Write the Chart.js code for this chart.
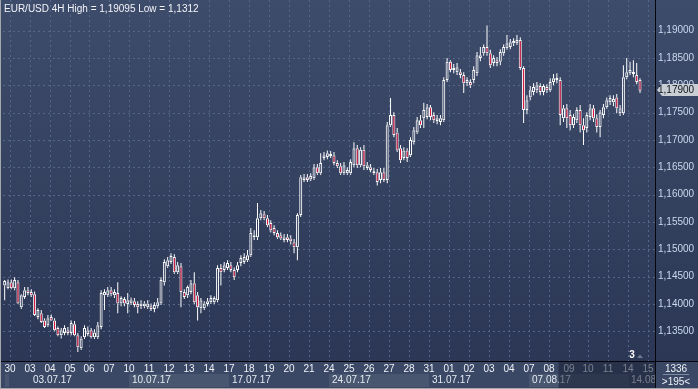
<!DOCTYPE html>
<html>
<head>
<meta charset="utf-8">
<script src="https://cdn.jsdelivr.net/npm/chart.js@4.4.0/dist/chart.umd.min.js"></script>
<style>
  html, body { margin: 0; padding: 0; background: #2f3c59; overflow: hidden; }
  #wrap { width: 698px; height: 389px; position: relative; }
</style>
</head>
<body>
<div id="wrap"><canvas id="chart"></canvas></div>
<script>
// EUR/USD 4H, 29.06.17 - 14.08.17
const dayNames = ['29','30','03','04','05','06','07','10','11','12','13','14','17','18','19','20','21',
  '24','25','26','27','28','31','01','02','03','04','07','08','09','10','11','14','15'];
const weekLabels = ['03.07.17','10.07.17','17.07.17','24.07.17','31.07.17','07.08.17','14.08.17'];
const weekDayIdx = [2, 7, 12, 17, 22, 27, 32];
const hours = ['00','04','08','12','16','20'];
const priceTicks = [1.135, 1.14, 1.145, 1.15, 1.155, 1.16, 1.165, 1.17, 1.175, 1.18, 1.185, 1.19];

const opens = [
  1.1434,1.1429,1.1440,1.1429,1.1440,1.1394,1.1413,1.1425,
  1.1422,1.1418,1.1376,1.1383,1.1370,1.1361, 1.1376,1.1370,1.1356,1.1343,1.1347,1.1352,
  1.1347,1.1363,1.1343,1.1319,1.1339,1.1345, 1.1352,1.1339,1.1339,1.1358,1.1416,1.1416,
  1.1425,1.1416,1.1420,1.1401,1.1409,1.1400, 1.1401,1.1405,1.1400,1.1396,1.1396,1.1394,
  1.1396,1.1391,1.1396,1.1401,1.1440,1.1469, 1.1477,1.1486,1.1458,1.1469,1.1422,1.1416,
  1.1422,1.1438,1.1416,1.1392,1.1392,1.1400, 1.1403,1.1403,1.1407,1.1466,1.1462,1.1466,
  1.1471,1.1462,1.1462,1.1475,1.1477,1.1480, 1.1489,1.1526,1.1522,1.1557,1.1564,1.1557,
  1.1548,1.1539,1.1530,1.1526,1.1517,1.1522, 1.1520,1.1513,1.1504,1.1563,1.1627,1.1632,
  1.1628,1.1630,1.1650,1.1639,1.1667,1.1669, 1.1671,1.1672,1.1658,1.1652,1.1639,1.1639,
  1.1639,1.1654,1.1685,1.1654,1.1682,1.1649, 1.1650,1.1639,1.1641,1.1627,1.1641,1.1627,
  1.1727,1.1746,1.1714,1.1685,1.1667,1.1681, 1.1672,1.1696,1.1714,1.1736,1.1740,1.1742,
  1.1760,1.1746,1.1735,1.1733,1.1736,1.1810, 1.1843,1.1828,1.1824,1.1824,1.1819,1.1804,
  1.1806,1.1810,1.1822,1.1850,1.1859,1.1870, 1.1859,1.1841,1.1846,1.1843,1.1859,1.1868,
  1.1870,1.1877,1.1877,1.1883,1.1832,1.1755, 1.1778,1.1788,1.1791,1.1799,1.1788,1.1797,
  1.1791,1.1806,1.1813,1.1810,1.1740,1.1758, 1.1746,1.1727,1.1736,1.1755,1.1727,1.1722,
  1.1742,1.1758,1.1740,1.1724,1.1746,1.1760, 1.1769,1.1769,1.1778,1.1749,1.1749,1.1815,
  1.1822,1.1821,1.1819,1.1810
];
const highs = [
  1.1444,1.1445,1.1445,1.1449,1.1444,1.1418,1.1431,1.1431,
  1.1427,1.1423,1.1392,1.1389,1.1374,1.1380, 1.1381,1.1374,1.1359,1.1356,1.1361,1.1358,
  1.1370,1.1369,1.1347,1.1341,1.1361,1.1359, 1.1356,1.1354,1.1367,1.1425,1.1427,1.1431,
  1.1431,1.1427,1.1440,1.1414,1.1413,1.1420, 1.1412,1.1411,1.1405,1.1407,1.1405,1.1407,
  1.1401,1.1403,1.1411,1.1449,1.1482,1.1486, 1.1493,1.1491,1.1477,1.1475,1.1427,1.1434,
  1.1444,1.1458,1.1422,1.1411,1.1405,1.1411, 1.1416,1.1414,1.1471,1.1473,1.1477,1.1480,
  1.1477,1.1467,1.1477,1.1489,1.1493,1.1499, 1.1539,1.1535,1.1585,1.1572,1.1570,1.1563,
  1.1553,1.1544,1.1535,1.1531,1.1528,1.1528, 1.1526,1.1519,1.1566,1.1636,1.1638,1.1638,
  1.1639,1.1656,1.1656,1.1676,1.1678,1.1681, 1.1680,1.1678,1.1663,1.1658,1.1660,1.1650,
  1.1665,1.1696,1.1691,1.1687,1.1691,1.1660, 1.1656,1.1649,1.1647,1.1649,1.1649,1.1733,
  1.1777,1.1751,1.1722,1.1691,1.1687,1.1685, 1.1705,1.1724,1.1742,1.1746,1.1768,1.1766,
  1.1764,1.1751,1.1746,1.1746,1.1815,1.1850, 1.1846,1.1839,1.1841,1.1830,1.1824,1.1815,
  1.1811,1.1835,1.1861,1.1870,1.1875,1.19095, 1.1865,1.1855,1.1852,1.1866,1.1875,1.1892,
  1.1885,1.1886,1.1892,1.1888,1.1835,1.1782, 1.1799,1.1804,1.1806,1.1804,1.1802,1.1802,
  1.1813,1.1821,1.1822,1.1815,1.1764,1.1766, 1.1755,1.1747,1.1760,1.1764,1.1740,1.1751,
  1.1766,1.1764,1.1747,1.1755,1.1766,1.1778, 1.1782,1.1782,1.1784,1.1764,1.1837,1.1850,
  1.1843,1.1846,1.1841,1.1813
];
const lows = [
  1.1407,1.1427,1.1427,1.1425,1.1400,1.1391,1.1409,1.1416,
  1.1413,1.1378,1.1372,1.1365,1.1356,1.1358, 1.1369,1.1350,1.1341,1.1337,1.1343,1.1343,
  1.1343,1.1341,1.1312,1.1316,1.1336,1.1341, 1.1337,1.1336,1.1336,1.1354,1.1389,1.1413,
  1.1414,1.1411,1.1383,1.1396,1.1396,1.1383, 1.1398,1.1394,1.1383,1.1391,1.1392,1.1391,
  1.1387,1.1385,1.1392,1.1398,1.1434,1.1466, 1.1473,1.1455,1.1455,1.1394,1.1409,1.1411,
  1.1418,1.1400,1.1370,1.1383,1.1389,1.1396, 1.1400,1.1400,1.1403,1.1434,1.1458,1.1462,
  1.1458,1.1444,1.1458,1.1469,1.1473,1.1477, 1.1486,1.1517,1.1517,1.1553,1.1553,1.1541,
  1.1531,1.1526,1.1519,1.1517,1.1513,1.1513, 1.1509,1.1493,1.1480,1.1559,1.1623,1.1623,
  1.1625,1.1627,1.1636,1.1636,1.1663,1.1665, 1.1667,1.1654,1.1649,1.1636,1.1636,1.1636,
  1.1636,1.1650,1.1649,1.1650,1.1645,1.1645, 1.1641,1.1636,1.1617,1.1621,1.1623,1.1621,
  1.1724,1.1705,1.1678,1.1658,1.1663,1.1660, 1.1669,1.1692,1.1711,1.1722,1.1722,1.1738,
  1.1736,1.1731,1.1729,1.1727,1.1733,1.1806, 1.1824,1.1822,1.1819,1.1813,1.1786,1.1799,
  1.1795,1.1804,1.1817,1.1844,1.1854,1.1854, 1.1832,1.1835,1.1835,1.1837,1.1854,1.1865,
  1.1866,1.1872,1.1874,1.1828,1.1731,1.1747, 1.1773,1.1782,1.1786,1.1782,1.1782,1.1786,
  1.1788,1.1800,1.1804,1.1727,1.1733,1.1722, 1.1718,1.1722,1.1731,1.1714,1.1691,1.1714,
  1.1736,1.1733,1.1714,1.1705,1.1740,1.1757, 1.1764,1.1762,1.1749,1.1744,1.1746,1.1811,
  1.1819,1.1815,1.1802,1.1786
];
const closes = [
  1.1442,1.1440,1.1429,1.1444,1.1401,1.1416,1.1425,1.1420,
  1.1416,1.1380,1.1389,1.1367,1.1358,1.1374, 1.1370,1.1352,1.1343,1.1352,1.1356,1.1347,
  1.1365,1.1343,1.1321,1.1337,1.1356,1.1352, 1.1339,1.1348,1.1361,1.1420,1.1422,1.1425,
  1.1418,1.1422,1.1401,1.1411,1.1401,1.1407, 1.1407,1.1398,1.1394,1.1401,1.1401,1.1401,
  1.1391,1.1398,1.1403,1.1444,1.1477,1.1480, 1.1488,1.1458,1.1471,1.1422,1.1413,1.1431,
  1.1438,1.1403,1.1394,1.1407,1.1401,1.1405, 1.1411,1.1411,1.1466,1.1458,1.1471,1.1475,
  1.1462,1.1449,1.1471,1.1484,1.1486,1.1489, 1.1530,1.1522,1.1557,1.1566,1.1557,1.1544,
  1.1535,1.1530,1.1522,1.1520,1.1522,1.1517, 1.1515,1.1504,1.1563,1.1632,1.1632,1.1627,
  1.1634,1.1650,1.1639,1.1658,1.1672,1.1676, 1.1674,1.1658,1.1652,1.1639,1.1654,1.1645,
  1.1660,1.1685,1.1654,1.1682,1.1652,1.1654, 1.1645,1.1641,1.1623,1.1641,1.1627,1.1727,
  1.1746,1.1709,1.1681,1.1663,1.1681,1.1667, 1.1700,1.1718,1.1736,1.1727,1.1755,1.1760,
  1.1742,1.1736,1.1740,1.1740,1.1810,1.1843, 1.1828,1.1832,1.1833,1.1819,1.1804,1.1810,
  1.1800,1.1828,1.1855,1.1855,1.1870,1.1859, 1.1837,1.1850,1.1841,1.1861,1.1870,1.1877,
  1.1879,1.1881,1.1883,1.1832,1.1755,1.1773, 1.1791,1.1797,1.1800,1.1788,1.1799,1.1791,
  1.1806,1.1813,1.1810,1.1746,1.1758,1.1740, 1.1727,1.1742,1.1755,1.1727,1.1718,1.1746,
  1.1758,1.1740,1.1724,1.1751,1.1760,1.1773, 1.1777,1.1775,1.1758,1.1758,1.1815,1.1824,
  1.1828,1.1824,1.1806,1.1790
];

const FONT = '"Liberation Sans", Arial, sans-serif';
const RED = '#e3163f';

// one slot per 4H bar; the first day only shows its last two bars
const labels = [];
const slotDay = [];
['16', '20'].forEach(h => { labels.push(dayNames[0] + ' ' + h + ':00'); slotDay.push(0); });
for (let d = 1; d < dayNames.length; d++) {
  const n = d === dayNames.length - 1 ? 2 : 6;
  for (let k = 0; k < n; k++) { labels.push(dayNames[d] + ' ' + hours[k] + ':00'); slotDay.push(d); }
}
const dayStart = [];
slotDay.forEach((d, s) => { if (s > 0 && slotDay[s - 1] !== d) dayStart.push([d, s]); });

const bodies = opens.map((o, i) => [Math.min(o, closes[i]), Math.max(o, closes[i])]);
const upperWicks = highs.map((h, i) => [Math.max(opens[i], closes[i]), h]);
const lowerWicks = lows.map((l, i) => [l, Math.min(opens[i], closes[i])]);
const bodyFill = opens.map((o, i) => closes[i] < o ? RED : 'rgba(0,0,0,0)');

function slotW(x) { return x.getPixelForValue(1) - x.getPixelForValue(0); }
function slotLeft(x, s) { return x.getPixelForValue(s) - slotW(x) / 2; }

const terminal = {
  id: 'terminal',
  beforeDraw(chart) {
    const { ctx, chartArea: a } = chart;
    ctx.save();
    const g = ctx.createLinearGradient(0, 0, 0, a.bottom);
    g.addColorStop(0, '#3e4c6b');
    g.addColorStop(1, '#2b3754');
    ctx.fillStyle = g;
    ctx.fillRect(0, 0, chart.width, a.bottom);
    ctx.restore();
  },
  beforeDatasetsDraw(chart) {
    const { ctx, chartArea: a, scales: { x, y } } = chart;
    ctx.save();
    ctx.strokeStyle = '#56668a';
    ctx.lineWidth = 1;
    ctx.setLineDash([2, 3]);
    ctx.beginPath();
    y.ticks.forEach(t => {
      const py = Math.round(y.getPixelForValue(t.value)) + 0.5;
      ctx.moveTo(a.left, py); ctx.lineTo(a.right, py);
    });
    dayStart.forEach(([d, s]) => {
      const px = Math.round(slotLeft(x, s)) + 0.5;
      if (px < a.right - 2) { ctx.moveTo(px, a.top); ctx.lineTo(px, a.bottom); }
    });
    ctx.stroke();
    ctx.restore();
  },
  afterDraw(chart) {
    const { ctx, chartArea: a, scales: { x, y } } = chart;
    const W = chart.width, H = chart.height;
    ctx.save();

    // bottom time panel
    ctx.fillStyle = '#3b4865';
    ctx.fillRect(0, a.bottom, W, H - a.bottom);
    ctx.save();
    ctx.beginPath(); ctx.rect(0, a.bottom, a.right, H - a.bottom); ctx.clip();
    // part of previous week before the first Monday
    ctx.fillStyle = '#48566f';
    ctx.fillRect(a.left + 2, 374, Math.round(slotLeft(x, 2)) - a.left - 3, 13);
    weekDayIdx.forEach((d, w) => {
      const s = dayStart.find(e => e[0] === d)[1];
      const x0 = slotLeft(x, s);
      if (w % 2 === 1) {
        const x1 = slotLeft(x, s + 30);
        ctx.fillStyle = '#48566f';
        ctx.fillRect(Math.round(x0), 374, Math.round(x1 - x0), 13);
      }
      ctx.fillStyle = '#e6ebf3';
      ctx.font = '10px ' + FONT;
      ctx.textAlign = 'left';
      ctx.fillText(weekLabels[w], Math.round(x0) + 3, 383);
    });
    ctx.fillStyle = '#eef2f8';
    ctx.font = '10px ' + FONT;
    ctx.textAlign = 'center';
    dayStart.forEach(([d, s]) => {
      ctx.fillText(dayNames[d], Math.round(slotLeft(x, s)), 372);
    });
    // dimmed scroll region
    const ov = slotLeft(x, 167);
    ctx.fillStyle = 'rgba(24,32,52,0.55)';
    ctx.fillRect(ov, a.bottom, a.right - ov, H - a.bottom);
    ctx.restore();

    // bar counter
    ctx.fillStyle = '#eef2f8';
    ctx.font = '10px ' + FONT;
    ctx.textAlign = 'center';
    ctx.fillText('1336', 676, 372);
    ctx.fillText('>195<', 676, 385);
    ctx.strokeStyle = '#7e8aa0';
    ctx.beginPath(); ctx.moveTo(663, 374.5); ctx.lineTo(689, 374.5); ctx.stroke();

    // marker above the time panel
    ctx.fillStyle = '#ffffff';
    ctx.font = 'bold 10px ' + FONT;
    ctx.fillText('3', 632, 358);
    ctx.fillStyle = '#6e7890';
    ctx.beginPath(); ctx.moveTo(637, 358); ctx.lineTo(643, 358); ctx.lineTo(640, 354.5); ctx.closePath(); ctx.fill();

    // separators
    ctx.strokeStyle = '#05070c';
    ctx.lineWidth = 1;
    ctx.beginPath();
    ctx.moveTo(0, Math.round(a.bottom) + 0.5); ctx.lineTo(W, Math.round(a.bottom) + 0.5);
    ctx.moveTo(Math.round(a.right) + 0.5, 0); ctx.lineTo(Math.round(a.right) + 0.5, H);
    ctx.stroke();

    // last price tag
    const last = closes[closes.length - 1];
    const py = Math.round(y.getPixelForValue(last));
    ctx.fillStyle = '#c9cdd4';
    ctx.beginPath();
    ctx.moveTo(a.right + 2, py - 1);
    ctx.lineTo(a.right + 7, py - 7);
    ctx.lineTo(W, py - 7);
    ctx.lineTo(W, py + 5);
    ctx.lineTo(a.right + 7, py + 5);
    ctx.closePath();
    ctx.fill();
    ctx.fillStyle = '#10131a';
    ctx.font = '10px ' + FONT;
    ctx.textAlign = 'left';
    ctx.textBaseline = 'middle';
    ctx.fillText(last.toFixed(5).replace('.', ','), a.right + 3, py - 0.5);

    // title
    ctx.textBaseline = 'alphabetic';
    ctx.fillStyle = '#f2f4f8';
    ctx.fillText('EUR/USD 4H High = 1,19095 Low = 1,1312', 4, 12);

    // outer frame
    ctx.strokeStyle = '#a3a7ae';
    ctx.beginPath();
    ctx.moveTo(0.5, 0); ctx.lineTo(0.5, H);
    ctx.moveTo(0, H - 0.5); ctx.lineTo(W, H - 0.5);
    ctx.stroke();
    ctx.restore();
  }
};

new Chart(document.getElementById('chart'), {
  type: 'bar',
  data: {
    labels: labels,
    datasets: [
      {
        label: 'body',
        data: bodies,
        backgroundColor: bodyFill,
        borderColor: '#ffffff',
        borderWidth: 1,
        borderSkipped: false,
        barThickness: 3,
        minBarLength: 2,
        inflateAmount: 0,
        grouped: false,
        order: 0
      },
      {
        label: 'upper wick',
        data: upperWicks,
        backgroundColor: '#ffffff',
        borderWidth: 0,
        barThickness: 1,
        inflateAmount: 0,
        grouped: false,
        order: 1
      },
      {
        label: 'lower wick',
        data: lowerWicks,
        backgroundColor: '#ffffff',
        borderWidth: 0,
        barThickness: 1,
        inflateAmount: 0,
        grouped: false,
        order: 1
      }
    ]
  },
  options: {
    responsive: true,
    maintainAspectRatio: false,
    animation: false,
    devicePixelRatio: 1,
    layout: { padding: { left: 3, right: 0, top: 0, bottom: 28 } },
    plugins: { legend: { display: false }, tooltip: { enabled: false } },
    scales: {
      x: { type: 'category', display: false, offset: true, grid: { display: false } },
      y: {
        position: 'right',
        min: 1.12957,
        max: 1.19562,
        afterFit(scale) {
          scale.width = 43;
          scale.paddingTop = 0;
          scale.paddingBottom = 0;
        },
        afterBuildTicks(scale) { scale.ticks = priceTicks.map(v => ({ value: v })); },
        grid: { display: false, drawTicks: false },
        border: { display: false },
        ticks: {
          padding: 3,
          color: '#cbd8ee',
          font: { family: FONT, size: 10 },
          callback: v => v.toFixed(5).replace('.', ',')
        }
      }
    }
  },
  plugins: [terminal]
});
</script>
</body>
</html>
